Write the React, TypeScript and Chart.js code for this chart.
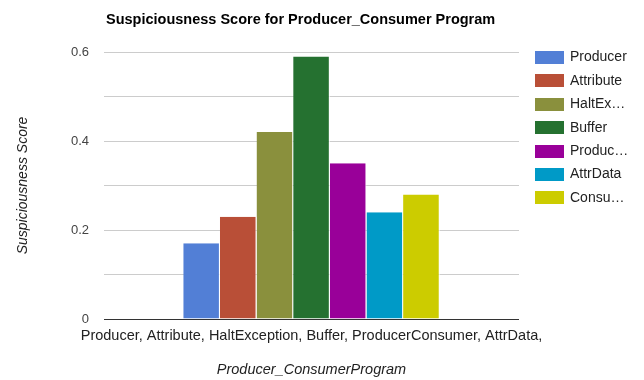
import React, { useEffect, useRef } from "react";
import { Chart, registerables } from "chart.js";

Chart.register(...registerables);

const chartTitle = "Suspiciousness Score for Producer_Consumer Program";
const xAxisTitle = "Producer_ConsumerProgram";
const yAxisTitle = "Suspiciousness Score";
const categories = ["Producer, Attribute, HaltException, Buffer, ProducerConsumer, AttrData,"];
const seriesNames = ["Producer", "Attribute", "HaltException", "Buffer", "ProducerConsumer", "AttrData", "Consumer"];
const legendLabels = ["Producer", "Attribute", "HaltEx\u2026", "Buffer", "Produc\u2026", "AttrData", "Consu\u2026"];
const seriesValues = [0.17, 0.23, 0.42, 0.59, 0.35, 0.24, 0.28];
const seriesColors = ["#527fd6", "#b94f37", "#8a903d", "#257130", "#990099", "#009ac7", "#cccc00"];
const yTickLabels = [0, 0.2, 0.4, 0.6];

const FONT = "Arial, 'Liberation Sans', sans-serif";

const decorPlugin = {
  id: "decor",
  afterDraw(chart: any) {
    const { ctx, chartArea } = chart;
    ctx.save();
    // title
    ctx.fillStyle = "#000";
    ctx.font = `bold 14.5px ${FONT}`;
    ctx.textAlign = "left";
    ctx.textBaseline = "middle";
    ctx.fillText(chartTitle, chartArea.left + 2, 20);
    // x axis title
    ctx.font = `italic 14.5px ${FONT}`;
    ctx.fillStyle = "#222";
    ctx.textAlign = "center";
    ctx.fillText(xAxisTitle, (chartArea.left + chartArea.right) / 2, 370);
    // y axis title
    ctx.font = `italic 14px ${FONT}`;
    ctx.save();
    ctx.translate(23, (chartArea.top + chartArea.bottom) / 2);
    ctx.rotate(-Math.PI / 2);
    ctx.fillText(yAxisTitle, 0, 0);
    ctx.restore();
    // legend
    ctx.font = `14px ${FONT}`;
    ctx.textAlign = "left";
    chart.data.datasets.forEach((ds: any, i: number) => {
      const cy = 57.5 + i * 23.4;
      ctx.fillStyle = ds.backgroundColor;
      ctx.fillRect(535, Math.round(cy - 6.5), 29, 13);
      ctx.fillStyle = "#222";
      ctx.fillText(legendLabels[i], 570, cy);
    });
    ctx.restore();
  },
};

export default function App() {
  const ref = useRef<HTMLCanvasElement>(null);
  useEffect(() => {
    if (!ref.current) return;
    const chart = new Chart(ref.current, {
      type: "bar",
      data: {
        labels: categories,
        datasets: seriesNames.map((name, i) => ({
          label: name,
          data: [seriesValues[i]],
          backgroundColor: seriesColors[i],
          borderColor: "#ffffff",
          borderWidth: { top: 0, left: 0, bottom: 0, right: 1 },
          borderSkipped: false,
          categoryPercentage: 0.618,
          barPercentage: 1,
        })),
      },
      options: {
        animation: false,
        responsive: false,
        maintainAspectRatio: false,
        layout: { padding: { left: 0, right: 125, top: 52, bottom: 0 } },
        plugins: {
          legend: { display: false },
          title: { display: false },
          tooltip: { enabled: false },
        },
        scales: {
          x: {
            grid: { display: false, drawTicks: false },
            border: { display: false },
            ticks: {
              color: "#222",
              font: { family: FONT, size: 14.5 },
              padding: 8,
              maxRotation: 0,
              minRotation: 0,
              autoSkip: false,
            },
            afterFit: (s: any) => {
              s.height = 61;
            },
          },
          y: {
            min: 0,
            max: 0.6,
            border: { display: false },
            grid: {
              drawTicks: false,
              color: (c: any) => (c.tick && c.tick.value === 0 ? "#333" : "#cccccc"),
            },
            ticks: {
              stepSize: 0.1,
              padding: 15,
              color: "#444",
              font: { family: FONT, size: 13 },
              callback: (v: any) => {
                const n = Math.round(Number(v) * 10) / 10;
                return yTickLabels.some((t) => Math.abs(t - n) < 1e-9) ? String(n) : "";
              },
            },
            afterFit: (s: any) => {
              s.width = 104;
            },
          },
        },
      },
      plugins: [decorPlugin],
    });
    return () => chart.destroy();
  }, []);
  return (
    <div style={{ position: "fixed", left: 0, top: 0, width: 644, height: 380, background: "#fff" }}>
      <canvas ref={ref} width={644} height={380} style={{ width: 644, height: 380 }} />
    </div>
  );
}
